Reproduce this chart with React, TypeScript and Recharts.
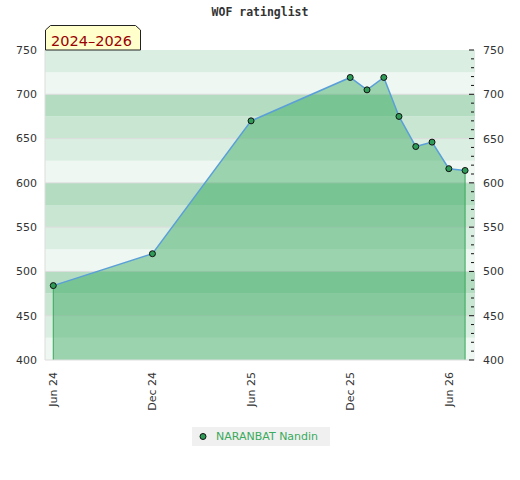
import {
  Area,
  ComposedChart,
  Legend,
  Line,
  ReferenceArea,
  ReferenceLine,
  XAxis,
  YAxis,
} from "recharts";

// rating history, one entry per rating list
const listDates = [
  "2024-06-01",
  "2024-12-01",
  "2025-06-01",
  "2025-12-01",
  "2026-01-01",
  "2026-02-01",
  "2026-03-01",
  "2026-04-01",
  "2026-05-01",
  "2026-06-01",
  "2026-07-01",
];
const ratings = [484, 520, 670, 719, 705, 719, 675, 641, 646, 616, 614];

const xTickDates = ["2024-06-01", "2024-12-01", "2025-06-01", "2025-12-01", "2026-06-01"];
const xTickLabels = ["Jun 24", "Dec 24", "Jun 25", "Dec 25", "Jun 26"];

const yMajorTicks = [400, 450, 500, 550, 600, 650, 700, 750];
const yMinorTicks = [
  400, 410, 420, 430, 440, 450, 460, 470, 480, 490, 500, 510, 520, 530, 540, 550, 560, 570,
  580, 590, 600, 610, 620, 630, 640, 650, 660, 670, 680, 690, 700, 710, 720, 730, 740, 750,
];
const gridValues = [450, 500, 550, 600, 650, 700];

const bandStarts = [400, 425, 450, 475, 500, 525, 550, 575, 600, 625, 650, 675, 700, 725];
const bandColors = ["#eef7f1", "#dbeee2", "#c9e6d3", "#b3dcc1"];

const playerName = "NARANBAT Nandin";
const periodLabel = "2024–2026";

const DAY = 86400000;
const toMs = (s: string) => Date.parse(s + "T00:00:00Z");

const rows = listDates.map((d, i) => ({ t: toMs(d), rating: ratings[i] }));
const xDomain = [toMs("2024-06-01") - 15.3 * DAY, toMs("2026-06-01") + 48.3 * DAY];

const labelFor = (ms: number) => {
  const i = xTickDates.findIndex((d) => toMs(d) === ms);
  return i >= 0 ? xTickLabels[i] : "";
};

const font = "'DejaVu Sans', Verdana, sans-serif";

function XTick({ x, y, payload }: any) {
  return (
    <text
      transform={`translate(${x + 4},${y + 4}) rotate(-90)`}
      textAnchor="end"
      fontSize={11}
      fontFamily={font}
      fill="#333"
    >
      {labelFor(payload.value)}
    </text>
  );
}

function RightTick({ x, y, payload }: any) {
  const major = payload.value % 50 === 0;
  return (
    <g>
      <line x1={x - (major ? 14 : 12)} x2={x - 9} y1={y} y2={y} stroke="#111" strokeWidth={1} />
      {major && (
        <text x={x} y={y} dy={4} fontSize={11} fontFamily={font} fill="#333">
          {payload.value}
        </text>
      )}
    </g>
  );
}

function LegendBox() {
  return (
    <div
      style={{
        background: "#f0f0f0",
        height: 19,
        display: "flex",
        alignItems: "center",
        fontFamily: font,
        fontSize: 11,
        color: "#3aaa5c",
      }}
    >
      <svg width={24} height={19}>
        <circle cx={11} cy={9.5} r={3} fill="#2e9b57" stroke="#111" strokeWidth={1} />
      </svg>
      <span>{playerName}</span>
    </div>
  );
}

export default function App() {
  const first = rows[0];
  const last = rows[rows.length - 1];
  return (
    <div style={{ position: "relative", width: 520, height: 480, background: "#fff" }}>
      <style>{`body{margin:0}`}</style>
      <div
        style={{
          position: "absolute",
          top: 5,
          left: 0,
          width: 520,
          textAlign: "center",
          fontFamily: "'DejaVu Sans Mono', monospace",
          fontWeight: "bold",
          fontSize: 11.5,
          color: "#333",
        }}
      >
        WOF ratinglist
      </div>
      <ComposedChart
        width={520}
        height={480}
        data={rows}
        margin={{ top: 50, right: 0, bottom: 60, left: 0 }}
        style={{ position: "absolute", top: 0, left: 0 }}
      >
        <XAxis
          dataKey="t"
          type="number"
          domain={xDomain}
          allowDataOverflow
          ticks={xTickDates.map(toMs)}
          interval={0}
          height={60}
          axisLine={{ stroke: "#dddddd" }}
          tickLine={false}
          tick={<XTick />}
        />
        <YAxis
          yAxisId="left"
          domain={[400, 750]}
          allowDataOverflow
          ticks={yMajorTicks}
          interval={0}
          width={45}
          axisLine={{ stroke: "#dddddd" }}
          tickLine={false}
          tick={{ fill: "#333", fontSize: 11, fontFamily: font }}
        />
        <YAxis
          yAxisId="right"
          orientation="right"
          domain={[400, 750]}
          allowDataOverflow
          ticks={yMinorTicks}
          interval={0}
          width={45}
          axisLine={false}
          tickLine={false}
          tickSize={0}
          tickMargin={8}
          tick={<RightTick />}
        />
        {bandStarts.map((b, i) => (
          <ReferenceArea
            key={b}
            yAxisId="left"
            y1={b}
            y2={b + 25}
            fill={bandColors[i % 4]}
            fillOpacity={1}
            stroke="none"
            zIndex={-60}
          />
        ))}
        {gridValues.map((v) => (
          <ReferenceLine key={v} yAxisId="left" y={v} stroke="#dcdcdc" strokeWidth={1} zIndex={-40} />
        ))}
        <Area
          yAxisId="left"
          dataKey="rating"
          type="linear"
          baseValue={400}
          fill="#29a154"
          fillOpacity={0.42}
          stroke="none"
          isAnimationActive={false}
          legendType="none"
        />
        <ReferenceLine
          yAxisId="left"
          segment={[
            { x: first.t, y: 400 },
            { x: first.t, y: first.rating },
          ]}
          stroke="#3aa85c"
          strokeWidth={1}
          zIndex={150}
        />
        <ReferenceLine
          yAxisId="left"
          segment={[
            { x: last.t, y: 400 },
            { x: last.t, y: last.rating },
          ]}
          stroke="#3aa85c"
          strokeWidth={1}
          zIndex={150}
        />
        <Line
          yAxisId="left"
          dataKey="rating"
          name={playerName}
          type="linear"
          stroke="#5a9fd8"
          strokeWidth={1.5}
          dot={{ r: 3, fill: "#2e9b57", stroke: "#111", strokeWidth: 1 }}
          activeDot={false}
          isAnimationActive={false}
        />
        <Legend
          layout="horizontal"
          verticalAlign="middle"
          align="center"
          wrapperStyle={{ left: 192, top: 427, width: 138 }}
          content={() => <LegendBox />}
        />
      </ComposedChart>
      <svg
        width={98}
        height={27}
        style={{ position: "absolute", left: 44, top: 24 }}
      >
        <path
          d="M1.5,26 L1.5,6 L6.5,1.5 L91.5,1.5 L96.5,6 L96.5,26 Z"
          fill="#ffffcc"
          stroke="#222"
          strokeWidth={1}
        />
        <text x={7} y={21.5} fontSize={14.5} fontFamily={font} fill="#990000">
          {periodLabel}
        </text>
      </svg>
    </div>
  );
}
